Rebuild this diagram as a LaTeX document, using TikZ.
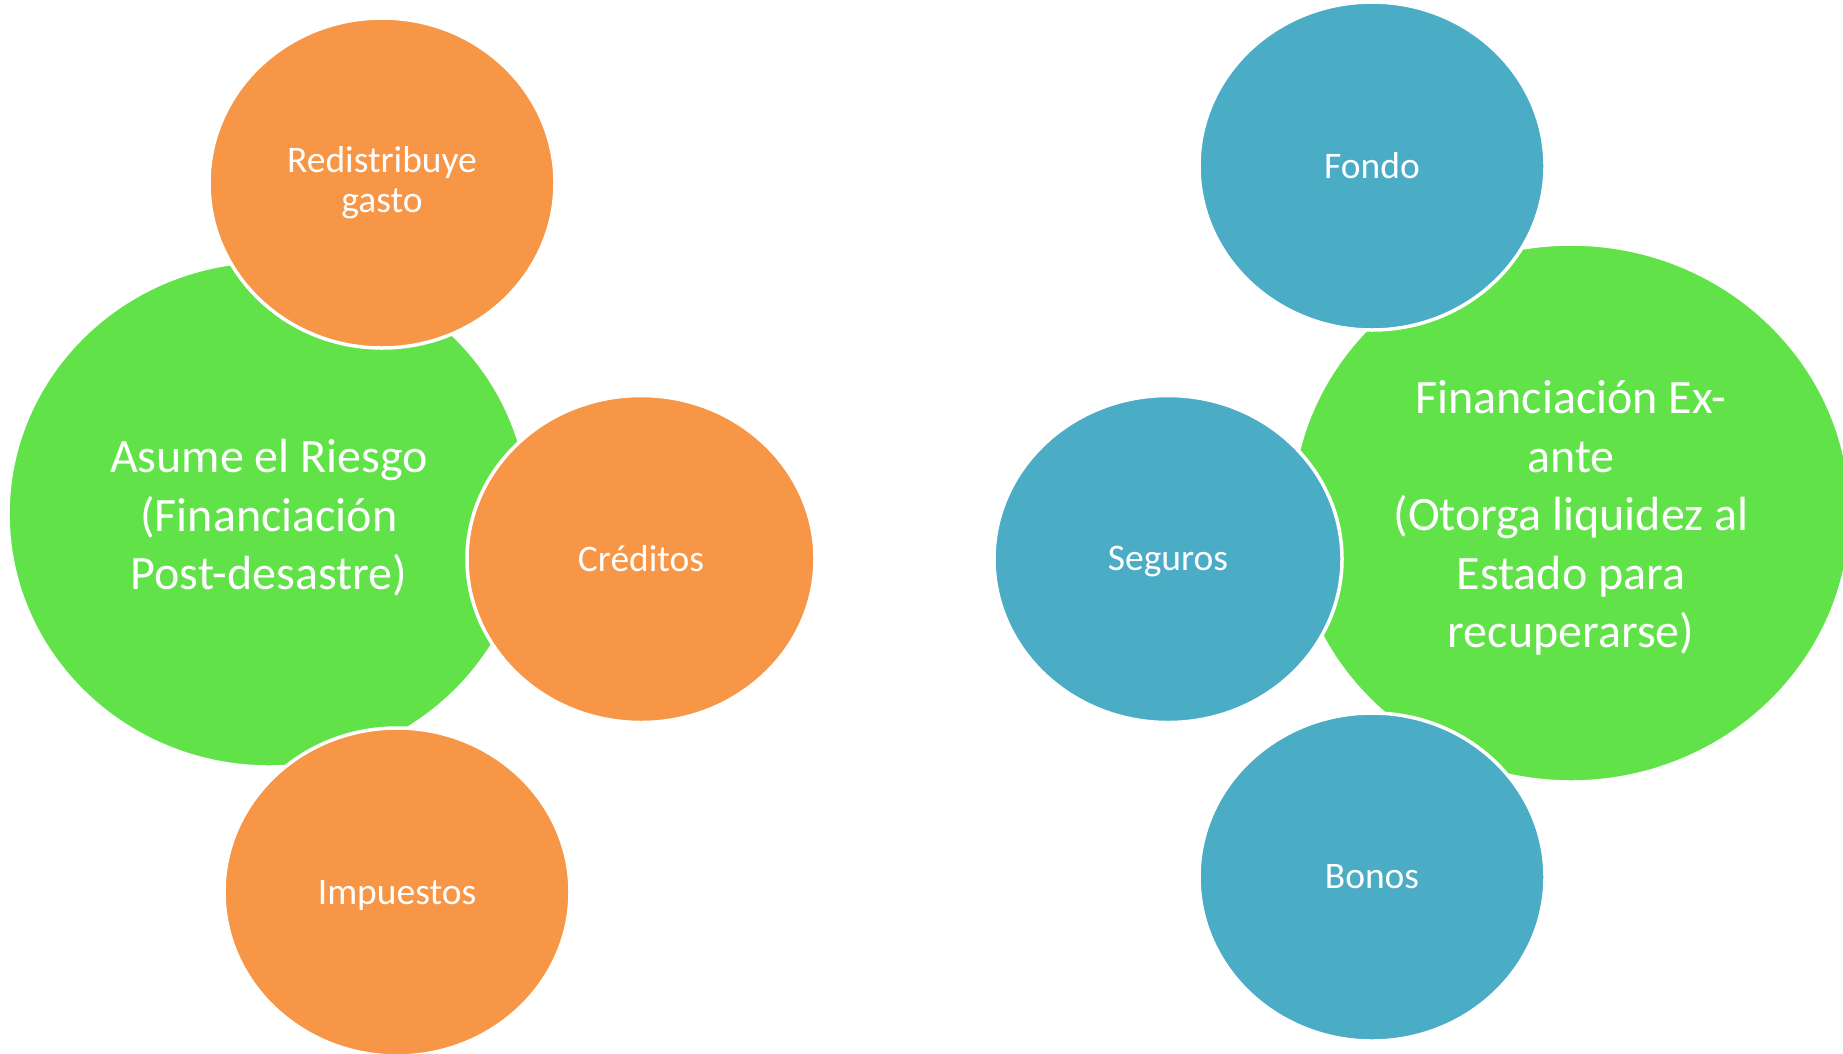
\documentclass[tikz,border=0pt]{standalone}
\usepackage{fontspec}
\setmainfont{Carlito}
\usetikzlibrary{shapes.geometric}
\definecolor{bgreen}{HTML}{62E249}
\definecolor{borange}{HTML}{F79646}
\definecolor{bblue}{HTML}{4BACC6}
\tikzset{
  bubble/.style={ellipse, inner sep=0pt, draw=white, line width=3.5pt},
  greenbubble/.style={bubble, fill=bgreen},
  orangebubble/.style={bubble, fill=borange},
  bluebubble/.style={bubble, fill=bblue},
  bigtext/.style={text=white, align=center, inner sep=0pt, font=\fontsize{48}{58.5}\selectfont},
  smalltext/.style={text=white, align=center, inner sep=0pt, font=\fontsize{37.5}{40}\selectfont},
}
\begin{document}
\begin{tikzpicture}[x=1pt,y=-1pt]
\useasboundingbox (0,0) rectangle (1843,1053);
\clip (0,0) rectangle (1843,1053);
\fill[white] (0,0) rectangle (1843,1053);
% left group
\node[greenbubble, minimum width=522pt, minimum height=506pt] (riesgo) at (269,514) {};
\node[bigtext] (riesgo-t) at ([yshift=-4pt]riesgo.center) {Asume el Riesgo\\(Financiación\\Post-desastre)};
\node[orangebubble, minimum width=346pt, minimum height=330pt] (redis) at (382,183) {};
\node[smalltext] (redis-t) at (redis.center) {Redistribuye\\gasto};
\node[orangebubble, minimum width=348pt, minimum height=327pt] (cred) at (641,559) {};
\node[smalltext] (cred-t) at (cred.center) {Créditos};
\node[orangebubble, minimum width=346pt, minimum height=328pt] (imp) at (397,892) {};
\node[smalltext] (imp-t) at ([yshift=-3pt]imp.center) {Impuestos};
% right group
\node[greenbubble, minimum width=560pt, minimum height=538pt] (exante) at (1571,513) {};
\node[bigtext] (exante-t) at ([yshift=-5pt]exante.center) {Financiación Ex-\\ante\\(Otorga liquidez al\\Estado para\\recuperarse)};
\node[bluebubble, minimum width=346pt, minimum height=328pt] (fondo) at (1372,166) {};
\node[smalltext] (fondo-t) at (fondo.center) {Fondo};
\node[bluebubble, minimum width=348pt, minimum height=327pt] (seg) at (1168,559) {};
\node[smalltext] (seg-t) at ([yshift=-3pt]seg.center) {Seguros};
\node[bluebubble, minimum width=346pt, minimum height=328pt] (bonos) at (1372,877) {};
\node[smalltext] (bonos-t) at (bonos.center) {Bonos};
\end{tikzpicture}
\end{document}
